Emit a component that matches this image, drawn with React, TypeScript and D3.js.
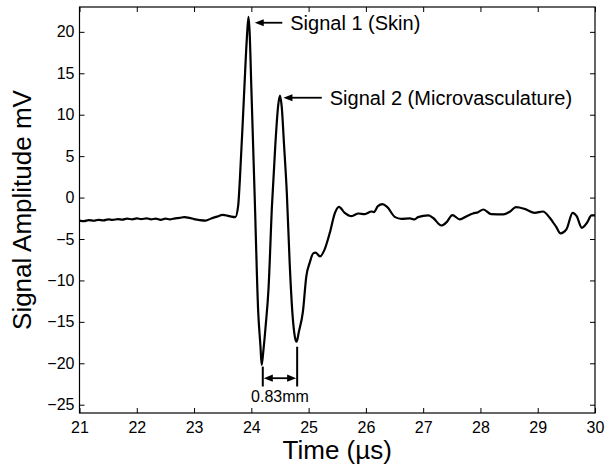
import React, { useEffect, useRef } from 'react'
import * as d3 from 'd3'

// waveform: time in microseconds, amplitude in mV
const times = [
  21.0, 21.08, 21.16, 21.25, 21.33, 21.42, 21.5, 21.58, 21.67, 21.75, 21.83, 21.92,
  22.0, 22.08, 22.17, 22.25, 22.33, 22.42, 22.5, 22.58, 22.67, 22.75, 22.83, 22.92,
  23.0, 23.1, 23.2, 23.3, 23.4, 23.5, 23.58, 23.65, 23.72, 23.77, 23.8, 23.87, 23.92,
  23.95, 23.97, 24.0, 24.06, 24.12, 24.16, 24.18, 24.21, 24.25, 24.3, 24.36, 24.42,
  24.47, 24.5, 24.53, 24.57, 24.62, 24.67, 24.72, 24.76, 24.79, 24.83, 24.9, 24.96,
  25.02, 25.08, 25.12, 25.2, 25.28, 25.37, 25.46, 25.53, 25.63, 25.75, 25.87, 25.98,
  26.1, 26.14, 26.21, 26.29, 26.37, 26.51, 26.62, 26.77, 26.85, 26.91, 27.09, 27.17,
  27.32, 27.41, 27.51, 27.64, 27.76, 27.87, 27.96, 28.05, 28.19, 28.4, 28.51, 28.62,
  28.77, 28.95, 29.09, 29.21, 29.32, 29.4, 29.5, 29.61, 29.68, 29.77, 29.86, 29.94, 30.0
]
const amplitude = [
  -2.78, -2.85, -2.72, -2.8, -2.68, -2.75, -2.64, -2.7, -2.6, -2.66, -2.55, -2.62,
  -2.52, -2.6, -2.5, -2.62, -2.55, -2.68, -2.55, -2.62, -2.5, -2.45, -2.36, -2.45,
  -2.6, -2.72, -2.78, -2.52, -2.3, -2.1, -2.18, -2.3, -2.36, -1.0, 2.2, 12.0, 19.0,
  21.8, 20.0, 13.3, -0.2, -13.8, -18.0, -20.2, -18.5, -15.5, -11.0, -1.0, 6.5,
  11.2, 12.3, 11.0, 6.5, 0.5, -8.0, -14.2, -16.8, -17.4, -16.2, -13.8, -9.5,
  -7.85, -6.73, -6.65, -7.1, -6.25, -4.25, -1.84, -1.12, -1.84, -2.24, -1.92, -2.0,
  -1.68, -1.75, -1.04, -0.8, -1.12, -2.36, -2.56, -2.52, -2.64, -2.36, -2.16, -2.44,
  -3.37, -2.96, -2.12, -2.64, -2.24, -1.92, -1.76, -1.44, -2.0, -2.04, -1.72, -1.16,
  -1.36, -1.84, -1.68, -2.44, -3.52, -4.33, -3.85, -1.84, -2.24, -3.65, -3.04, -2.16, -2.16
]

const xTicks = [21, 22, 23, 24, 25, 26, 27, 28, 29, 30]
const yTicks = [-25, -20, -15, -10, -5, 0, 5, 10, 15, 20]

// pointer annotations (data coords)
const labelText = ['Signal 1 (Skin)', 'Signal 2 (Microvasculature)']
const labelTip = [24.06, 24.56]
const labelTail = [24.54, 25.23]
const labelLevel = [21.1, 12.05]

// spacing marker between the two troughs
const gapText = '0.83mm'
const gapStart = 24.2
const gapEnd = 24.8
const gapLevel = -21.8
const gapBottom = -22.8
const gapTopLeft = -20.4
const gapTopRight = -18.0

const W = 605
const H = 468
const margin = { top: 7, right: 10, bottom: 55, left: 79.5 }
const FONT = '"Liberation Sans", Arial, Helvetica, sans-serif'

function arrowHead(x: number, y: number, dir: number) {
  // filled triangle, tip at (x,y), pointing left (dir=-1) or right (dir=1)
  const len = 9, half = 3.6
  return `M${x},${y}L${x - dir * len},${y - half}L${x - dir * len},${y + half}Z`
}

export default function App() {
  const ref = useRef<SVGSVGElement>(null)

  useEffect(() => {
    const svg = d3.select(ref.current)
    svg.selectAll('*').remove()

    const x = d3.scaleLinear().domain([21, 30]).range([margin.left, W - margin.right])
    const y = d3.scaleLinear().domain([-26, 23]).range([H - margin.bottom, margin.top])
    const x0 = margin.left, x1 = W - margin.right
    const y0 = H - margin.bottom, y1 = margin.top

    const g = svg.append('g').attr('font-family', FONT)

    // axes (inward ticks, MATLAB box)
    const bottom = g.append('g').attr('transform', `translate(0,${y0})`)
      .call(d3.axisBottom(x).tickValues(xTicks).tickFormat(d3.format('d')).tickSizeInner(-5).tickSizeOuter(0).tickPadding(9))
    const left = g.append('g').attr('transform', `translate(${x0},0)`)
      .call(d3.axisLeft(y).tickValues(yTicks).tickFormat(d => d3.format('d')(d as number).replace('-', '\u2212')).tickSizeInner(-5).tickSizeOuter(0).tickPadding(5))
    g.append('g').attr('transform', `translate(0,${y1})`)
      .call(d3.axisTop(x).tickValues(xTicks).tickFormat(() => '').tickSizeInner(-5).tickSizeOuter(0))
    g.append('g').attr('transform', `translate(${x1},0)`)
      .call(d3.axisRight(y).tickValues(yTicks).tickFormat(() => '').tickSizeInner(-5).tickSizeOuter(0))
    g.selectAll('.domain').remove()
    g.selectAll('.tick line').attr('stroke', '#000').attr('stroke-width', 1)
    bottom.selectAll('text').attr('font-size', 16).attr('font-family', FONT).attr('fill', '#000')
    left.selectAll('text').attr('font-size', 16).attr('font-family', FONT).attr('fill', '#000')

    g.append('rect').attr('x', x0).attr('y', y1).attr('width', x1 - x0).attr('height', y0 - y1)
      .attr('fill', 'none').attr('stroke', '#000').attr('stroke-width', 1.2)

    // waveform
    const pts: [number, number][] = times.map((t, i) => [t, amplitude[i]])
    const line = d3.line<[number, number]>().x(d => x(d[0])).y(d => y(d[1])).curve(d3.curveMonotoneX)
    g.append('path').attr('d', line(pts)).attr('fill', 'none').attr('stroke', '#000')
      .attr('stroke-width', 2.2).attr('stroke-linejoin', 'round')

    // signal labels with arrows
    labelText.forEach((txt, i) => {
      const tx = x(labelTip[i]), ex = x(labelTail[i]), ly = y(labelLevel[i])
      g.append('line').attr('x1', tx + 8).attr('x2', ex).attr('y1', ly).attr('y2', ly)
        .attr('stroke', '#000').attr('stroke-width', 1.8)
      g.append('path').attr('d', arrowHead(tx, ly, -1)).attr('fill', '#000')
      g.append('text').attr('x', ex + 8).attr('y', ly).attr('dy', '0.35em')
        .attr('font-size', 20).attr('fill', '#000').text(txt)
    })

    // trough spacing marker
    const gs = x(gapStart), ge = x(gapEnd), gy = y(gapLevel), gb = y(gapBottom)
    g.append('line').attr('x1', gs).attr('x2', gs).attr('y1', y(gapTopLeft)).attr('y2', gb)
      .attr('stroke', '#000').attr('stroke-width', 2)
    g.append('line').attr('x1', ge).attr('x2', ge).attr('y1', y(gapTopRight)).attr('y2', gb)
      .attr('stroke', '#000').attr('stroke-width', 2)
    g.append('line').attr('x1', gs + 6).attr('x2', ge - 6).attr('y1', gy).attr('y2', gy)
      .attr('stroke', '#000').attr('stroke-width', 1.8)
    g.append('path').attr('d', arrowHead(gs + 1, gy, -1)).attr('fill', '#000')
    g.append('path').attr('d', arrowHead(ge - 1, gy, 1)).attr('fill', '#000')
    g.append('text').attr('x', (gs + ge) / 2).attr('y', gb + 16).attr('text-anchor', 'middle')
      .attr('font-size', 16).attr('fill', '#000').text(gapText)

    // axis titles
    g.append('text').attr('x', (x0 + x1) / 2).attr('y', 459).attr('text-anchor', 'middle')
      .attr('font-size', 26).attr('fill', '#000').text('Time (\u00b5s)')
    g.append('text').attr('transform', `translate(31,${(y0 + y1) / 2}) rotate(-90)`)
      .attr('text-anchor', 'middle').attr('font-size', 26).attr('fill', '#000').text('Signal Amplitude mV')
  }, [])

  return (
    <svg ref={ref} width={W} height={H}
      style={{ position: 'absolute', left: 0, top: 0, background: '#fff' }} />
  )
}
